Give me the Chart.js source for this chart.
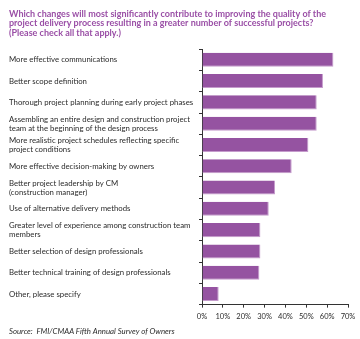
<!DOCTYPE html>
<html>
<head>
<meta charset="utf-8">
<script src="https://cdn.jsdelivr.net/npm/chart.js@4"></script>
<style>
  html, body { margin: 0; padding: 0; background: #fff; }
  #wrap { width: 360px; height: 339px; }
</style>
</head>
<body>
<div id="wrap"><canvas id="grafico" width="360" height="339"></canvas></div>
<script>
// Survey answers, top to bottom
const categorias = [
  'More effective communications',
  'Better scope definition',
  'Thorough project planning during early project phases',
  ['Assembling an entire design and construction project', 'team at the beginning of the design process'],
  ['More realistic project schedules reflecting specific', 'project conditions'],
  'More effective decision-making by owners',
  ['Better project leadership by CM', '(construction manager)'],
  'Use of alternative delivery methods',
  ['Greater level of experience among construction team', 'members'],
  'Better selection of design professionals',
  'Better technical training of design professionals',
  'Other, please specify'
];

// Share of owners choosing each answer (%)
const percentuais = [63, 58, 55, 55, 51, 43, 35, 32, 28, 28, 27.5, 8];

const xTicks = [0, 10, 20, 30, 40, 50, 60, 70];

const titulo = [
  'Which changes will most significantly contribute to improving the quality of the',
  'project delivery process resulting in a greater number of successful projects?',
  '(Please check all that apply.)'
];
const fonte = 'Source:  FMI/CMAA Fifth Annual Survey of Owners';

const roxo = '#9553a1';
const texto = '#2b2b2b';
const familia = 'Lato, "Open Sans", sans-serif';

const ctx = document.getElementById('grafico').getContext('2d');
new Chart(ctx, {
  type: 'bar',
  data: {
    labels: categorias,
    datasets: [{
      data: percentuais,
      backgroundColor: roxo,
      borderColor: '#c59bcc',
      borderWidth: { top: 0, left: 0, bottom: 1, right: 1 },
      borderSkipped: 'left',
      categoryPercentage: 0.66,
      barPercentage: 1
    }]
  },
  options: {
    indexAxis: 'y',
    responsive: false,
    animation: false,
    layout: { padding: { left: 9, right: 12, top: 9, bottom: 3 } },
    plugins: {
      legend: { display: false },
      tooltip: { enabled: false },
      title: {
        display: true,
        text: titulo,
        align: 'start',
        color: '#9a4fa6',
        font: { family: familia, size: 9, weight: 'bold', lineHeight: 1.08 },
        padding: { top: 0, bottom: 11 }
      },
      subtitle: {
        display: true,
        position: 'bottom',
        text: fonte,
        align: 'start',
        color: texto,
        font: { family: familia, size: 7.8, style: 'italic' },
        padding: { top: 2, bottom: 0 }
      }
    },
    scales: {
      x: {
        min: 0,
        max: 70,
        afterBuildTicks: axis => { axis.ticks = xTicks.map(v => ({ value: v })); },
        grid: { display: true, drawOnChartArea: false, drawTicks: true, tickLength: 3, color: '#333' },
        border: { display: true, color: '#333', width: 1 },
        ticks: {
          color: texto,
          padding: 4,
          font: { family: familia, size: 7.5 },
          callback: v => v + '%'
        }
      },
      y: {
        grid: { display: true, drawOnChartArea: false, drawTicks: true, tickLength: 3, color: '#333', offset: true },
        border: { display: true, color: '#333', width: 1 },
        afterFit: axis => { axis.width = 193; },
        ticks: {
          crossAlign: 'far',
          autoSkip: false,
          color: texto,
          font: { family: familia, size: 7.8, lineHeight: 1.15 }
        }
      }
    }
  }
});
</script>
</body>
</html>
